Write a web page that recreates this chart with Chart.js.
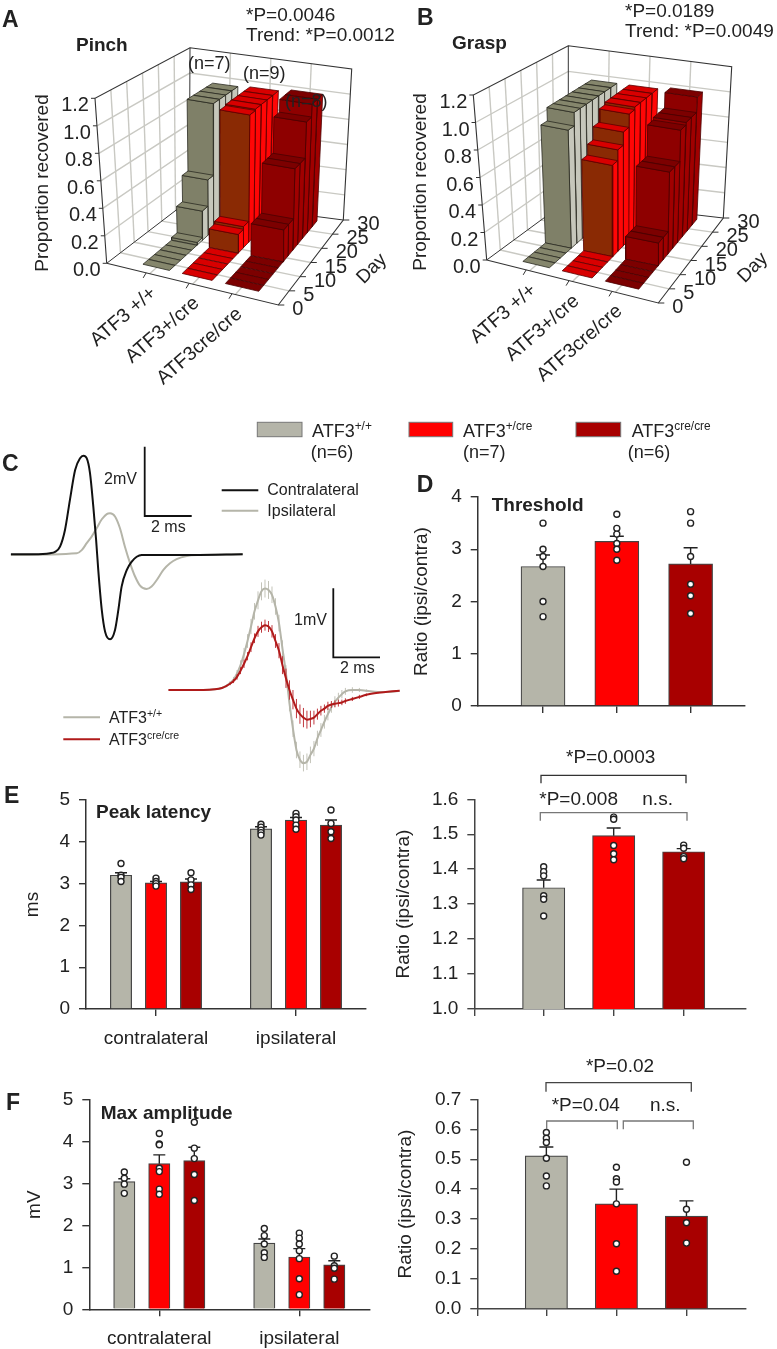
<!DOCTYPE html>
<html><head><meta charset="utf-8">
<script src="https://cdn.jsdelivr.net/npm/chart.js@4"></script>
<style>
html,body{margin:0;padding:0;background:#fff}
#page{position:relative;width:777px;height:1349px;overflow:hidden;background:#fff}
#page canvas{position:absolute;left:0;top:0;pointer-events:none}
.t{position:absolute;white-space:nowrap;line-height:1;color:#222;font-family:"Liberation Sans",Arial,sans-serif}
.t sup{font-size:.66em;line-height:0;vertical-align:.55em}
</style></head><body><div id="page"></div>
<script>
// ---------- DATA ----------
const days3d=[3.8,6,8.1,10.3,12.4,14.6,16.7,18.9,21,23.2,25.3,27.5];
const dayTicks=[0,5,10,15,20,25,30];
const valueTicks3d=[0,0.2,0.4,0.6,0.8,1.0,1.2];
const groups3d=['ATF3 +/+','ATF3+/cre','ATF3cre/cre'];

const pinchWT=[0,0,0,0,0,0.02,0.22,0.42,0.97,0.97,0.97,0.97];
const pinchHet=[0,0,0,0,0,0.14,0.16,0.97,0.98,0.98,0.98,0.98];
const pinchKO=[0,0,0,0,0,0.24,0.24,0.62,0.62,0.9,1.0,1.0];
const graspWT=[0,0,0,0,0.88,0.98,0.98,0.98,0.98,0.98,0.98,0.98];
const graspHet=[0,0,0,0,0.68,0.76,0.86,0.96,0.98,0.98,0.98,0.98];
const graspKO=[0,0,0,0,0.17,0.17,0.62,0.62,0.86,0.88,0.88,1.0];

const contraT=[0,0.96,1.67,1.88,2.09,2.30,2.51,2.73,2.94,3.08,3.22,3.36,3.50,3.62,3.71,3.86,4.0,4.21,4.42,4.56,4.70,4.92,5.13,5.34,5.55,5.90,7.74,9.83];
const contraV=[0,0,0.03,0.07,0.22,0.70,1.57,2.43,2.77,2.84,2.77,2.34,1.38,0.41,-0.45,-1.61,-2.23,-2.45,-2.18,-1.61,-0.93,-0.45,-0.21,-0.07,-0.02,-0.02,-0.02,0];
const ipsiT=[0,2.80,3.01,3.22,3.43,3.64,3.86,4.07,4.21,4.42,4.63,4.84,5.06,5.27,5.48,5.76,5.97,6.19,6.47,6.75,7.03,7.46,8.02,9.83];
const ipsiV=[-0.02,0.03,0.12,0.32,0.51,0.75,1.01,1.16,1.18,1.09,0.75,0.22,-0.26,-0.64,-0.90,-1.0,-0.93,-0.74,-0.45,-0.26,-0.14,-0.05,-0.02,0];

const traceT=[0,1.5,2.0,2.3,2.5,2.65,2.8,2.95,3.1,3.25,3.4,3.55,3.7,3.85,4.0,4.15,4.3,4.45,4.6,4.75,4.9,5.05,5.2,5.35,5.5,5.65,5.8,5.95,6.1,6.25,6.4,6.55,6.7,6.85,7.0,7.15,7.3,7.45,7.6,7.9,8.2,8.5,9.0,9.5,9.93];
const traceWT=[0,0,0.01,0.03,0.06,0.10,0.15,0.24,0.36,0.52,0.71,0.92,1.14,1.30,1.43,1.47,1.45,1.38,1.21,0.97,0.60,0.24,-0.19,-0.56,-0.87,-1.01,-1.06,-1.04,-0.94,-0.85,-0.70,-0.58,-0.46,-0.35,-0.25,-0.17,-0.11,-0.06,-0.02,0,0,-0.01,-0.03,-0.03,-0.01];
const traceWTsem=[0,0,0,0.01,0.02,0.03,0.04,0.05,0.07,0.09,0.10,0.11,0.12,0.13,0.13,0.13,0.13,0.12,0.12,0.12,0.12,0.12,0.12,0.12,0.12,0.12,0.12,0.12,0.12,0.11,0.11,0.10,0.10,0.09,0.08,0.08,0.07,0.06,0.05,0.04,0.03,0.02,0.01,0,0];
const traceKO=[0,0,0.01,0.03,0.06,0.09,0.13,0.19,0.28,0.38,0.49,0.62,0.75,0.85,0.91,0.94,0.92,0.85,0.71,0.57,0.36,0.17,0,-0.14,-0.27,-0.35,-0.40,-0.43,-0.42,-0.40,-0.35,-0.30,-0.27,-0.23,-0.21,-0.20,-0.19,-0.18,-0.16,-0.13,-0.10,-0.07,-0.04,-0.02,-0.01];
const traceKOsem=[0,0,0,0.01,0.01,0.02,0.03,0.04,0.05,0.06,0.06,0.07,0.07,0.08,0.08,0.08,0.08,0.09,0.10,0.11,0.13,0.14,0.14,0.14,0.14,0.14,0.14,0.13,0.12,0.10,0.08,0.07,0.06,0.06,0.05,0.05,0.05,0.04,0.04,0.03,0.03,0.02,0.01,0,0];

const barColors=['#b5b5a9','#ff0000','#a80000','#b5b5a9','#ff0000','#a80000'];

const thresholdMeans=[2.67,3.15,2.72];
const thresholdSem=[0.22,0.10,0.31];
const thresholdPts=[[3.50,3.0,2.86,2.67,2.0,1.71],[3.67,3.40,3.29,3.11,3.0,2.79],[3.72,3.50,2.86,2.33,2.11,1.77]];

const latencyMeans=[3.2,3.02,3.04,4.31,4.52,4.40];
const latencySem=[0.06,0.03,0.07,0.05,0.06,0.12];
const latencyPts=[[3.48,3.2,3.15,3.05],[3.13,3.05,3.0,2.94],[3.26,3.09,2.97,2.86],[4.42,4.35,4.28,4.22,4.16],[4.68,4.6,4.52,4.40,4.30],[4.76,4.44,4.24,4.08]];
const latencyRatioMeans=[1.347,1.496,1.45];
const latencyRatioSem=[0.022,0.022,0.009];
const latencyRatioPts=[[1.407,1.393,1.381,1.324,1.314,1.266],[1.549,1.543,1.468,1.444,1.427],[1.469,1.46,1.436,1.43]];

const ampMeans=[3.05,3.48,3.55,1.58,1.25,1.06];
const ampSem=[0.07,0.21,0.32,0.10,0.20,0.10];
const ampPts=[[3.28,3.13,2.99,2.77],[4.2,3.95,3.93,3.37,3.29,2.87,2.75],[4.47,3.85,3.6,3.22,2.6],[1.93,1.76,1.56,1.35,1.24],[1.82,1.70,1.56,1.40,1.21,0.73,0.35],[1.27,1.04,0.98,0.72]];
const ampRatioMeans=[0.511,0.351,0.31];
const ampRatioSem=[0.03,0.049,0.051];
const ampRatioPts=[[0.589,0.57,0.556,0.503,0.444,0.411],[0.473,0.435,0.424,0.351,0.218,0.126],[0.49,0.333,0.288,0.22]];

const sideLabels=['contralateral','ipsilateral'];

// ---------- SETUP ----------
const W=777,H=1349,FONT='"Liberation Sans",Arial,sans-serif',INK='#222';
Chart.defaults.font.family=FONT;
Chart.defaults.color=INK;
const page=document.getElementById('page');
function label(html,x,y,o={}){
  const e=document.createElement('div');e.className='t';e.innerHTML=html;
  const a=o.align||'left',rot=o.rot||0;
  e.style.left=x+'px';e.style.top=y+'px';e.style.fontSize=(o.size||19)+'px';
  if(o.bold)e.style.fontWeight='bold';
  const ox={left:'0%',center:'50%',right:'100%'}[a];
  e.style.transformOrigin=ox+' 50%';
  e.style.transform=`translate(-${ox},-50%) rotate(${rot}deg)`;
  page.appendChild(e);
}
function newCanvas(){const c=document.createElement('canvas');c.width=W;c.height=H;c.style.width=W+'px';c.style.height=H+'px';page.appendChild(c);return c.getContext('2d');}
const baseOpts={responsive:false,animation:false,events:[],plugins:{legend:{display:false},tooltip:{enabled:false},title:{display:false}}};

// ---------- BAR PANELS ----------
const errorBars={id:'errorBars',afterDatasetDraw(chart,args){
  const cfg=chart.options.plugins.errorBars;
  if(!cfg||!cfg.sem||args.index!==1)return;
  const {x,y}=chart.scales,c=chart.ctx;c.save();c.strokeStyle='#222';c.lineWidth=1.4;
  cfg.xs.forEach((v,i)=>{const px=x.getPixelForValue(v),a=y.getPixelForValue(cfg.means[i]),b=y.getPixelForValue(cfg.means[i]+cfg.sem[i]);
    c.beginPath();c.moveTo(px,a);c.lineTo(px,b);c.moveTo(px-cfg.cap,b);c.lineTo(px+cfg.cap,b);c.stroke();});
  c.restore();
}};
function barPanel(p){
  const lh=19*1.2,yW=p.l-p.titleX+lh/2,xH=44;
  const bars=p.xs.map((x,i)=>({x,y:p.means[i]}));
  const dots=[];p.pts.forEach((a,i)=>a.forEach(y=>dots.push({x:p.xs[i],y})));
  const lineC=p.lineC||'#333';
  new Chart(newCanvas(),{type:'bar',plugins:[errorBars],data:{datasets:[
    {type:'scatter',data:dots,pointRadius:3,pointBorderWidth:1.4,pointBorderColor:'#222',pointBackgroundColor:'#fff',order:0,clip:false},
    {type:'bar',data:bars,backgroundColor:barColors,borderColor:'#444',borderWidth:1.2,barThickness:p.barW,order:1}
  ]},options:{...baseOpts,
    plugins:{...baseOpts.plugins,errorBars:{xs:p.xs,means:p.means,sem:p.sem,cap:p.cap||7}},
    layout:{padding:{left:p.l-yW,right:W-p.r,top:p.t,bottom:H-p.b-xH}},
    scales:{
      x:{type:'linear',offset:false,min:p.xmin,max:p.xmax,
        grid:{offset:false,drawOnChartArea:false,drawTicks:true,tickLength:7,tickColor:lineC,lineWidth:1.4},
        border:{color:lineC,width:1.5},
        ticks:{autoSkip:false,maxRotation:0,padding:11,font:{size:19},color:INK,callback:v=>{const i=p.xTicks.indexOf(v);return p.xLabels?(p.xLabels[i]||''):'';}},
        afterBuildTicks:s=>{s.ticks=p.xTicks.map(value=>({value}));},
        afterFit:s=>{s.height=xH;s.paddingLeft=s.paddingRight=s.paddingTop=s.paddingBottom=0;}},
      y:{type:'linear',min:p.ymin,max:p.ymax,
        title:{display:true,text:p.title,font:{size:19},color:INK,padding:0},
        grid:{drawOnChartArea:false,drawTicks:true,tickLength:7,tickColor:lineC,lineWidth:1.4},
        border:{color:lineC,width:1.5},
        ticks:{stepSize:p.step,padding:9,font:{size:p.tickSize||19},color:INK,callback:v=>v.toFixed(p.dec)},
        afterFit:s=>{s.width=yW;s.paddingLeft=s.paddingRight=s.paddingTop=s.paddingBottom=0;}}
    }}});
}
barPanel({l:477.7,r:745,t:497,b:706,xmin:0.115,xmax:3.737,ymin:0,ymax:4,step:1,dec:0,xs:[1,2,3],means:thresholdMeans,sem:thresholdSem,pts:thresholdPts,barW:44,xTicks:[1,2,3],title:'Ratio (ipsi/contra)',titleX:421.7});
barPanel({l:86,r:366,t:800,b:1009,xmin:0,xmax:8,ymin:0,ymax:5,step:1,dec:0,xs:[1,2,3,5,6,7],means:latencyMeans,sem:latencySem,pts:latencyPts,barW:21.3,cap:6,xTicks:[2,6],xLabels:sideLabels,title:'ms',titleX:32.5});
barPanel({l:474.3,r:745.3,t:799.3,b:1009,xmin:0.009,xmax:3.88,ymin:1,ymax:1.6,step:0.1,dec:1,xs:[1,2,3],means:latencyRatioMeans,sem:latencyRatioSem,pts:latencyRatioPts,barW:42.3,xTicks:[0.009,1,2,3],title:'Ratio (ipsi/contra)',titleX:403.5,lineC:'#444'});
barPanel({l:89.3,r:369.3,t:1100,b:1309.3,xmin:0,xmax:8,ymin:0,ymax:5,step:1,dec:0,xs:[1,2,3,5,6,7],means:ampMeans,sem:ampSem,pts:ampPts,barW:21.3,cap:6,xTicks:[2,6],xLabels:sideLabels,title:'mV',titleX:35});
barPanel({l:477.3,r:745.3,t:1099.3,b:1309,xmin:0.014,xmax:3.84,ymin:0,ymax:0.7,step:0.1,dec:1,xs:[1,2,3],means:ampRatioMeans,sem:ampRatioSem,pts:ampRatioPts,barW:42.3,xTicks:[0.014,1,2,3],title:'Ratio (ipsi/contra)',titleX:406,lineC:'#444'});

// ---------- WAVEFORMS ----------
const pair=(xs,ys)=>xs.map((x,i)=>({x,y:ys[i]}));
const traceErr={id:'traceErr',beforeDatasetDraw(chart,args){
  const cfg=chart.options.plugins.traceErr;if(!cfg||!cfg[args.index])return;
  const {x,y}=chart.scales,c=chart.ctx,e=cfg[args.index];c.save();c.strokeStyle=e.color;c.lineWidth=1;
  traceT.forEach((t,i)=>{if(!e.sem[i])return;const px=x.getPixelForValue(t);c.beginPath();
    c.moveTo(px,y.getPixelForValue(e.v[i]-e.sem[i]));c.lineTo(px,y.getPixelForValue(e.v[i]+e.sem[i]));c.stroke();});
  c.restore();
}};
function wavePanel(box,xr,yr,sets,errs){
  new Chart(newCanvas(),{type:'line',plugins:[traceErr],data:{datasets:sets.map(s=>({data:s.data,borderColor:s.color,borderWidth:s.w||2,pointRadius:0,cubicInterpolationMode:'monotone',fill:false}))},
    options:{...baseOpts,plugins:{...baseOpts.plugins,traceErr:errs||{}},
      layout:{padding:{left:box.l,right:W-box.r,top:box.t,bottom:H-box.b}},
      scales:{x:{type:'linear',display:false,min:xr[0],max:xr[1]},y:{type:'linear',display:false,min:yr[0],max:yr[1]}}}});
}
wavePanel({l:10.7,r:246.7,t:450.2,b:658.4},[0,10],[-3,3],[
  {data:pair(contraT,contraV),color:'#111'},
  {data:pair(ipsiT,ipsiV),color:'#b5b5a9'}]);
wavePanel({l:168.3,r:401.3,t:552,b:828},[0,10],[-2,2],[
  {data:pair(traceT,traceKO),color:'#b01a1a'},
  {data:pair(traceT,traceWT),color:'#b5b5a9'}],
  {0:{color:'#c0393f',sem:traceKOsem,v:traceKO},1:{color:'#c3c3b8',sem:traceWTsem,v:traceWT}});

// ---------- 3D BARS ----------
const lerp=(a,b,t)=>[a[0]+(b[0]-a[0])*t,a[1]+(b[1]-a[1])*t];
function project(c,u,day,v){
  const d=day/30,h=v/1.2;
  const bottom=lerp(lerp(c.p000,c.p100,u),lerp(c.p010,c.p110,u),d);
  const top=lerp(lerp(c.p001,c.p101,u),lerp(c.p011,c.p111,u),d);
  const p=lerp(bottom,top,h);return {x:p[0],y:p[1]};
}
const style3d=[
  {front:'#7f8068',side:'#c6c7bb',top:'#85866c',edge:'#2b2b22',u:0.247,hw:0.078},
  {front:'#8a2a04',side:'#ff0606',top:'#d80000',edge:'#5a0000',u:0.488,hw:0.088},
  {front:'#8e0000',side:'#a00000',top:'#7c0000',edge:'#4a0000',u:0.752,hw:0.098}];
function bar3dPanel(c,series,texts){
  const P=(u,d,v)=>project(c,u,d,v),ds=[];
  const line=(pts,color,w)=>ds.push({data:pts,borderColor:color,borderWidth:w,pointRadius:0,tension:0,fill:false});
  const poly=(pts,bg,edge)=>ds.push({data:[...pts,pts[0]],backgroundColor:bg,borderColor:edge,borderWidth:0.8,pointRadius:0,tension:0,fill:'shape'});
  const GRID='#c9c9c3',AX='#333';
  [0.2,0.4,0.6,0.8,1.0].forEach(v=>line([P(0,0,v),P(0,30,v),P(1,30,v)],GRID,1.4));
  [5,10,15,20,25].forEach(d=>{line([P(0,d,0),P(0,d,1.2)],GRID,1.4);line([P(0,d,0),P(1,d,0)],GRID,1.4);});
  [0.25,0.5,0.75].forEach(u=>{line([P(u,30,0),P(u,30,1.2)],GRID,1.4);line([P(u,0,0),P(u,30,0)],GRID,1.4);});
  line([P(0,0,0),P(0,0,1.2),P(0,30,1.2),P(1,30,1.2),P(1,30,0),P(1,0,0),P(0,0,0)],AX,1.1);
  line([P(0,0,0),P(0,30,0),P(1,30,0)],AX,1);line([P(0,30,0),P(0,30,1.2)],AX,1);
  valueTicks3d.forEach(v=>{const a=P(0,0,v);line([a,{x:a.x-4,y:a.y}],AX,1);});
  dayTicks.forEach(d=>{const a=P(1,d,0);line([a,{x:a.x+6,y:a.y}],AX,1);});
  [0.23,0.48,0.73].forEach(u=>{const a=P(u,0,0);line([a,{x:a.x-3,y:a.y+5}],AX,1);});
  series.forEach((vals,g)=>{
    const s=style3d[g],u0=s.u-s.hw,u1=s.u+s.hw,dh=1.07;
    for(let i=days3d.length-1;i>=0;i--){
      const v=vals[i],d0=days3d[i]-dh,d1=days3d[i]+dh;
      if(v>0){
        poly([P(u1,d0,0),P(u1,d1,0),P(u1,d1,v),P(u1,d0,v)],s.side,s.edge);
        poly([P(u0,d0,0),P(u1,d0,0),P(u1,d0,v),P(u0,d0,v)],s.front,s.edge);
      }
      poly([P(u0,d0,v),P(u1,d0,v),P(u1,d1,v),P(u0,d1,v)],s.top,s.edge);
    }
  });
  ds.forEach((d,i)=>{d.order=ds.length-i;});
  new Chart(newCanvas(),{type:'line',data:{datasets:ds},options:{...baseOpts,
    scales:{x:{type:'linear',display:false,min:0,max:W},y:{type:'linear',display:false,min:0,max:H,reverse:true}}}});
  valueTicks3d.forEach(v=>{const a=P(0,0,v);label(v.toFixed(1),a.x-6,a.y+6,{align:'right',size:20});});
  dayTicks.forEach(d=>{const a=P(1,d,0);label(String(d),a.x+14,a.y+3,{size:20});});
  [0.23,0.48,0.73].forEach((u,i)=>{const a=P(u,0,0);label(groups3d[i],a.x+7,a.y+17,{align:'right',rot:-41,size:19.5});});
  label('Proportion recovered',texts.yt[0],texts.yt[1],{align:'center',rot:-90});
  label('Day',texts.day[0],texts.day[1],{align:'center',rot:-45});
}
bar3dPanel({p000:[106.7,263.3],p100:[278.3,305],p110:[343.3,220],p010:[189.3,200],p001:[95,98.3],p011:[190,47.7],p111:[351.7,69],p101:[280,138]},
  [pinchWT,pinchHet,pinchKO],{yt:[40.7,183],day:[371,268]});
bar3dPanel({p000:[486.7,260],p100:[658.3,303],p110:[723.3,218],p010:[568.3,200],p001:[473.3,95],p011:[568.3,45.7],p111:[731.7,66.7],p101:[660,136]},
  [graspWT,graspHet,graspKO],{yt:[419,182],day:[751.7,266.7]});

// ---------- ANNOTATION STROKES ----------
const strokes=[
  {c:'#111',w:1.8,p:[[144.7,446.7],[144.7,516],[191.7,516]]},
  {c:'#111',w:1.8,p:[[333.3,588.3],[333.3,657.3],[380,657.3]]},
  {c:'#111',w:2,p:[[221.7,490.3],[258.3,490.3]]},
  {c:'#b5b5a9',w:2,p:[[221.7,510.7],[258.3,510.7]]},
  {c:'#b5b5a9',w:2,p:[[63.3,717.3],[100,717.3]]},
  {c:'#b01a1a',w:2,p:[[63.3,739.3],[100,739.3]]},
  {c:'#333',w:1.3,p:[[541,783.3],[541,775.3],[686,775.3],[686,783.3]]},
  {c:'#777',w:1.3,p:[[540.3,820.7],[540.3,812.7],[687,812.7],[687,820.7]]},
  {c:'#777',w:1.3,p:[[613.7,812.7],[613.7,816]]},
  {c:'#444',w:1.3,p:[[546,1091.7],[546,1082.7],[691.3,1082.7],[691.3,1091.7]]},
  {c:'#777',w:1.3,p:[[546.7,1129.3],[546.7,1121],[617.3,1121],[617.3,1129.3]]},
  {c:'#777',w:1.3,p:[[623.3,1129.3],[623.3,1121],[693.3,1121],[693.3,1129.3]]}
];
const swatches=[[257.3,422.3,44.7,14.4,'#b5b5a9'],[409,422.3,43.7,14.4,'#ff0000'],[576,422.3,44.7,14.4,'#a80000']];
const annot={id:'annot',afterDraw(chart){const c=chart.ctx;c.save();
  strokes.forEach(s=>{c.strokeStyle=s.c;c.lineWidth=s.w;c.lineJoin='miter';c.beginPath();s.p.forEach((q,i)=>i?c.lineTo(q[0],q[1]):c.moveTo(q[0],q[1]));c.stroke();});
  swatches.forEach(r=>{c.fillStyle=r[4];c.fillRect(r[0],r[1],r[2],r[3]);c.strokeStyle='#777';c.lineWidth=1;c.strokeRect(r[0],r[1],r[2],r[3]);});
  c.restore();}};
new Chart(newCanvas(),{type:'line',plugins:[annot],data:{datasets:[]},options:{...baseOpts,scales:{x:{display:false},y:{display:false}}}});

// ---------- FREE TEXT ----------
[['A',2,19],['B',417,17],['C',2,463],['D',416.7,484],['E',4,795],['F',6,1101.7]].forEach(a=>label(a[0],a[1],a[2],{size:23,bold:true}));
[['Pinch',76,44],['Grasp',452,42],['Threshold',491.7,504],['Peak latency',96,810.7],['Max amplitude',100.7,1111.7]].forEach(a=>label(a[0],a[1],a[2],{bold:true}));
[['*P=0.0046',246,14],['Trend: *P=0.0012',246,34],['*P=0.0189',625,10],['Trend: *P=0.0049',625,30],
 ['*P=0.008',539.3,798.3],['n.s.',642.3,798.3],['*P=0.04',551.7,1104],['n.s.',650,1104]].forEach(a=>label(a[0],a[1],a[2]));
label('*P=0.0003',610.7,756,{align:'center'});label('*P=0.02',620,1065,{align:'center'});
[['(n=7)',188,63],['(n=9)',243,73],['(n=8)',285,101]].forEach(a=>label(a[0],a[1],a[2],{size:18}));
[['ATF3<sup>+/+</sup>',312,430.7],['ATF3<sup>+/cre</sup>',463,430.7],['ATF3<sup>cre/cre</sup>',631.7,430.7],['(n=6)',310.7,452],['(n=7)',463,452],['(n=6)',627.7,452]].forEach(a=>label(a[0],a[1],a[2],{size:18}));
[['2mV',104,478.7],['2 ms',151,526.7],['Contralateral',267.3,490],['Ipsilateral',267.3,510.7],['1mV',294,620],['2 ms',340,667.7],
 ['ATF3<sup>+/+</sup>',109,718],['ATF3<sup>cre/cre</sup>',109,740]].forEach(a=>label(a[0],a[1],a[2],{size:16}));
</script></body></html>
